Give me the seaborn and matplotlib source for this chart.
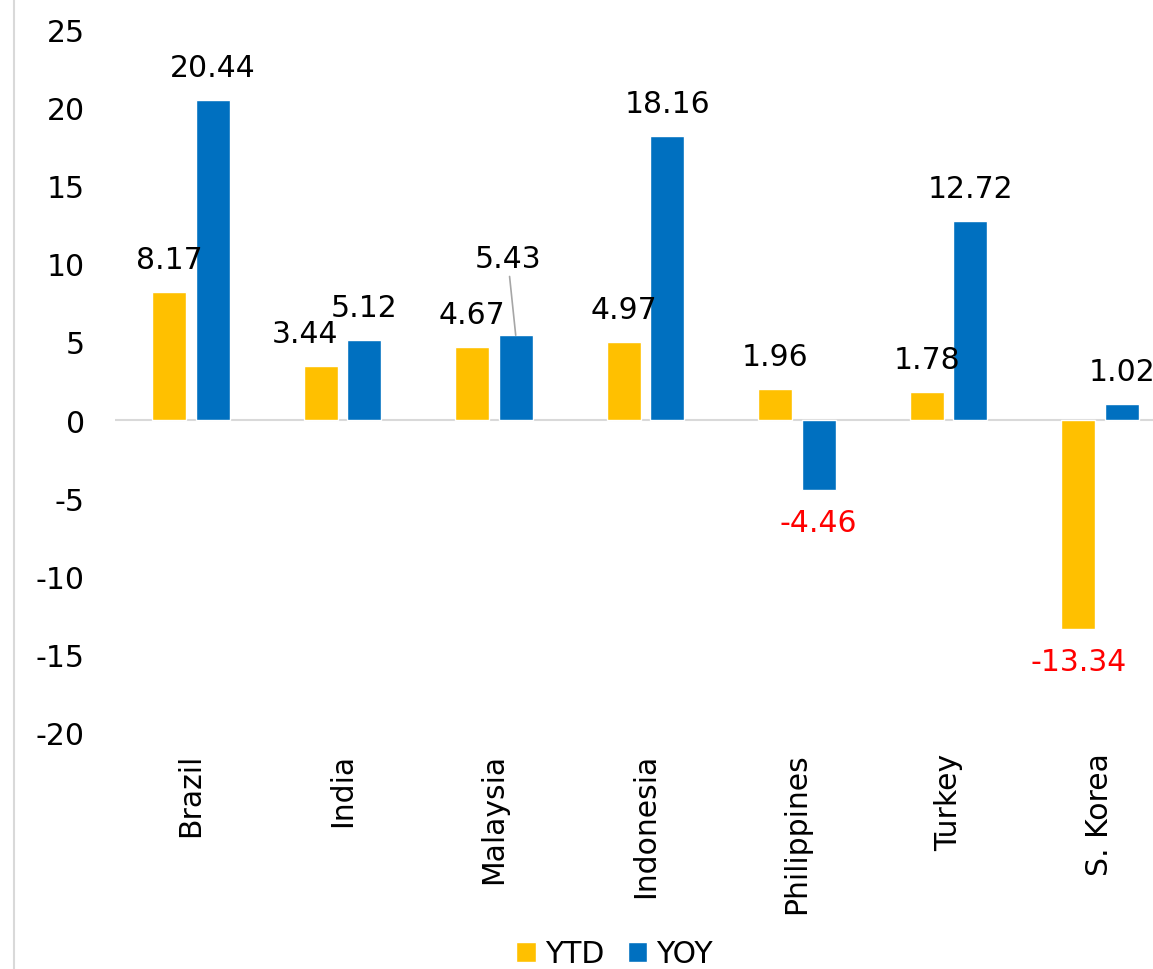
import matplotlib
matplotlib.use('Agg')
from matplotlib import pyplot as plt
from matplotlib.lines import Line2D
import pandas as pd
import seaborn as sns

#### DATA #####################################################################
countries = ['Brazil', 'India', 'Malaysia', 'Indonesia', 'Philippines', 'Turkey', 'S. Korea']
ytd = [8.17, 3.44, 4.67, 4.97, 1.96, 1.78, -13.34]
yoy = [20.44, 5.12, 5.43, 18.16, -4.46, 12.72, 1.02]
series = ['YTD', 'YOY']
colors = ['#FFC000', '#0070C0']

df = pd.DataFrame({'country': countries * 2,
                   'series': ['YTD'] * len(countries) + ['YOY'] * len(countries),
                   'value': ytd + yoy})

#### PLOT #####################################################################
sns.set_style('white')
plt.rcParams['font.family'] = ['DejaVu Sans']
plt.rcParams['axes.unicode_minus'] = False
fs = 21.5

fig = plt.figure(figsize=(11.53, 9.70), dpi=100)
ax = fig.add_axes([0.09996, 0.2433, 0.9197, 0.7257])

sns.barplot(data=df, x='country', y='value', hue='series', palette=colors,
            width=0.574, gap=0.22, ax=ax, legend=True, saturation=1)

ax.set_ylim(-20, 25)
ax.set_xlim(-0.5, 6.5)
ax.set_yticks(range(-20, 26, 5))
ax.set_xlabel('')
ax.set_ylabel('')
for s in ax.spines.values():
    s.set_visible(False)
ax.axhline(0, color='#d9d9d9', lw=1.5, zorder=0)
ax.tick_params(axis='y', labelsize=fs, pad=22, length=0, labelcolor='black')
ax.tick_params(axis='x', labelsize=fs, pad=14, length=0, rotation=90, labelcolor='black')

# data labels
offset = {('YTD', 'India'): (-16, 0)}
for si, (name, vals) in enumerate(zip(series, [ytd, yoy])):
    for ci, v in enumerate(vals):
        xpos = ci + (-0.1435 if si == 0 else 0.1435)
        dx, dy = offset.get((name, countries[ci]), (0, 0))
        if name == 'YOY' and countries[ci] == 'Malaysia':
            # this label was pulled up, with a leader line back to the bar
            ax.annotate(f'{v:.2f}', xy=(xpos, v), xytext=(-8, 62),
                        textcoords='offset pixels', ha='center', va='bottom',
                        fontsize=fs, color='black',
                        arrowprops=dict(arrowstyle='-', color='#a6a6a6', lw=1.2,
                                        shrinkA=0, shrinkB=0))
            continue
        if v >= 0:
            ax.annotate(f'{v:.2f}', xy=(xpos, v), xytext=(dx, 18 + dy),
                        textcoords='offset pixels', ha='center', va='bottom',
                        fontsize=fs, color='black')
        else:
            ax.annotate(f'{v:.2f}', xy=(xpos, v), xytext=(dx, -18 + dy),
                        textcoords='offset pixels', ha='center', va='top',
                        fontsize=fs, color='red')

leg = ax.legend(loc='center', bbox_to_anchor=(0.533, 0.0155), bbox_transform=fig.transFigure,
                ncol=2, frameon=False, fontsize=fs, handlelength=0.65, handleheight=0.65,
                handletextpad=0.3, columnspacing=0.8)
for t in leg.get_texts():
    t.set_color('black')

# chart border on the left
fig.add_artist(Line2D([0.0125, 0.0125], [0, 1], transform=fig.transFigure,
                      color='#d9d9d9', lw=1.5))

fig.savefig('out.png', dpi=100)
